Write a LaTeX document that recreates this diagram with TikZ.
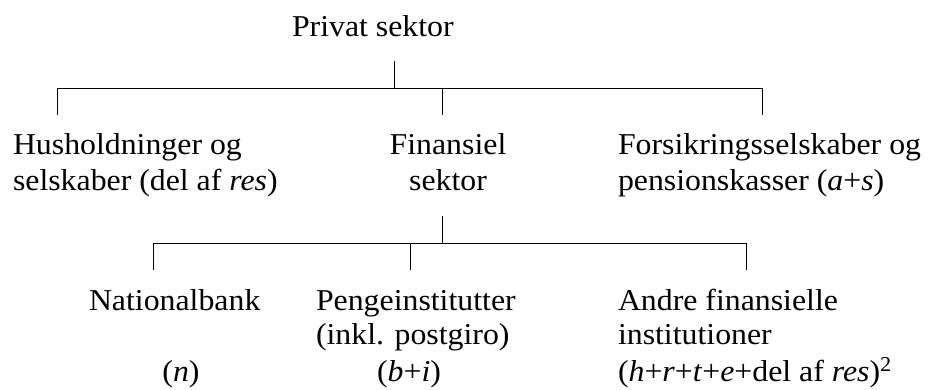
\documentclass[tikz,border=0pt]{standalone}
\usepackage{fontspec}
\setmainfont{Liberation Serif}[FakeStretch=1.05]
\begin{document}
\begin{tikzpicture}[x=1pt,y=-1pt,
  lbl/.style={inner sep=0pt,outer sep=0pt,font=\fontsize{30.3}{36}\selectfont},
  lw/.style={lbl,anchor=base west},
  lc/.style={lbl,anchor=base},
  conn/.style={line width=0.9pt,black}]
\useasboundingbox (0,0) rectangle (928,390);
% texts
\node[lw] (priv) at (292,37) {Privat sektor};
\node[lw] (hus1) at (13,155) {Husholdninger og};
\node[lw] (hus2) at (13,190) {selskaber (del af \textit{res})};
\node[lc] (fin1) at (448,155) {Finansiel};
\node[lc] (fin2) at (448,190) {sektor};
\node[lw] (for1) at (618,155) {Forsikringsselskaber og};
\node[lw] (for2) at (618,190) {pensionskasser (\textit{a}+\textit{s})};
\node[lw] (nat1) at (89,310) {Nationalbank};
\node[lc] (nat2) at (181,381) {(\textit{n})};
\node[lw] (pen1) at (316,310) {Pengeinstitutter};
\node[lw] (pen2) at (316,344) {(inkl. postgiro)};
\node[lc] (pen3) at (409,381) {(\textit{b}+\textit{i})};
\node[lw] (and1) at (618,310) {Andre finansielle};
\node[lw] (and2) at (618,344) {institutioner};
\node[lw] (and3) at (618,381) {(\textit{h}+\textit{r}+\textit{t}+\textit{e}+del af \textit{res})\textsuperscript{2}};
% connector points
\coordinate (pTop) at (394,61);
\coordinate (pBar) at (394,88);
\coordinate (hB) at (57,88);
\coordinate (hE) at (57,115);
\coordinate (fB) at (442,88);
\coordinate (fE) at (442,115);
\coordinate (rB) at (762,88);
\coordinate (rE) at (762,115);
\coordinate (fTop) at (442,216);
\coordinate (fBar) at (442,243);
\coordinate (nB) at (153,243);
\coordinate (nE) at (153,270);
\coordinate (gB) at (410,243);
\coordinate (gE) at (410,270);
\coordinate (aB) at (746,243);
\coordinate (aE) at (746,270);
% tree connectors
\draw[conn] (pTop) -- (pBar);
\draw[conn] (hE) -- (hB) -- (rB) -- (rE);
\draw[conn] (fB) -- (fE);
\draw[conn] (fTop) -- (fBar);
\draw[conn] (nE) -- (nB) -- (aB) -- (aE);
\draw[conn] (gB) -- (gE);
\end{tikzpicture}
\end{document}
